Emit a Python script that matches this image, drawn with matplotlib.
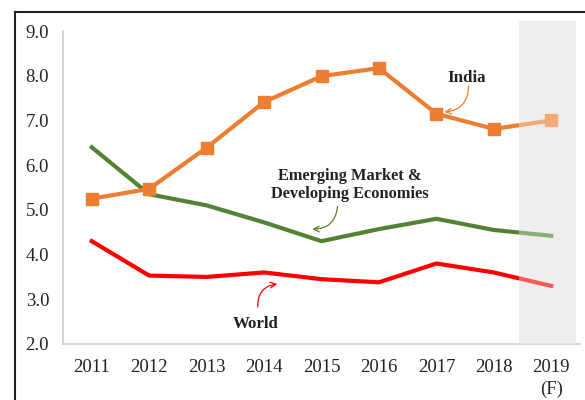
import matplotlib.pyplot as plt
from matplotlib.lines import Line2D

years = ['2011', '2012', '2013', '2014', '2015', '2016', '2017', '2018', '2019\n(F)']
india = [5.25, 5.47, 6.39, 7.41, 7.99, 8.17, 7.15, 6.81, 7.0]
emde = [6.4, 5.35, 5.1, 4.72, 4.3, 4.57, 4.8, 4.55, 4.42]
world = [4.3, 3.53, 3.5, 3.6, 3.45, 3.38, 3.8, 3.6, 3.3]

plt.rcParams['font.family'] = ['Liberation Serif', 'DejaVu Serif']

fig = plt.figure(figsize=(5.85, 4.0), dpi=100)
ax = fig.add_axes([63 / 585, 56 / 400, 517 / 585, 313 / 400])

x = list(range(len(years)))
ax.plot(x, emde, color='#548235', linewidth=3, zorder=3)
ax.plot(x, world, color='#ff0000', linewidth=3, zorder=3)
ax.plot(x, india, color='#ed7d31', linewidth=3, marker='s', markersize=8, zorder=3)

# forecast band: grey underneath, translucent white on top to fade the lines
ax.axvspan(7.43, 8.43, ymin=0, ymax=1.032, color='#e6e6e6', lw=0, zorder=1, clip_on=False)
ax.axvspan(7.43, 8.43, ymin=0, ymax=1.032, color='white', alpha=0.35, lw=0, zorder=4, clip_on=False)

ax.set_xlim(-0.5, 8.5)
ax.set_ylim(2.0, 9.0)
ax.set_yticks([2, 3, 4, 5, 6, 7, 8, 9])
ax.set_yticklabels(['%.1f' % v for v in [2, 3, 4, 5, 6, 7, 8, 9]], fontsize=13.5, color='#222222')
ax.set_xticks(x)
ax.set_xticklabels(years, fontsize=13.5, color='#222222', linespacing=1.3, va='top')
ax.tick_params(length=0)
ax.tick_params(axis='x', pad=11)
ax.tick_params(axis='y', pad=10)
for s in ['top', 'right']:
    ax.spines[s].set_visible(False)
for s in ['left', 'bottom']:
    ax.spines[s].set_color('#d0d0d0')
    ax.spines[s].set_linewidth(1.2)

bold = dict(fontsize=12.2, fontweight='bold', color='#222222', ha='center', va='center')
ax.text(6.53, 7.95, 'India', **bold)
ax.text(4.5, 5.56, 'Emerging Market &\nDeveloping Economies', linespacing=1.2,
        **{**bold, 'fontsize': 11.8})
ax.text(2.85, 2.45, 'World', **bold)

# curved pointer arrows
ax.annotate('', xy=(6.14, 7.19), xytext=(6.56, 7.77),
            arrowprops=dict(arrowstyle='->', color='#ed7d31', lw=0.9,
                            shrinkA=0, shrinkB=0, connectionstyle='arc3,rad=-0.45'))
ax.annotate('', xy=(3.84, 4.57), xytext=(4.28, 5.08),
            arrowprops=dict(arrowstyle='->', color='#548235', lw=0.9,
                            shrinkA=0, shrinkB=0, connectionstyle='arc3,rad=-0.45'))
ax.annotate('', xy=(3.23, 3.34), xytext=(2.89, 2.83),
            arrowprops=dict(arrowstyle='->', color='#ff0000', lw=0.9,
                            shrinkA=0, shrinkB=0, connectionstyle='arc3,rad=-0.45'))

# outer black frame (left and top edges)
fig.add_artist(Line2D([15 / 585, 15 / 585], [0, 1 - 12 / 400], color='#222222', lw=1.5))
fig.add_artist(Line2D([15 / 585, 1], [1 - 12 / 400, 1 - 12 / 400], color='#222222', lw=1.5))

fig.savefig('out.png', dpi=100)
